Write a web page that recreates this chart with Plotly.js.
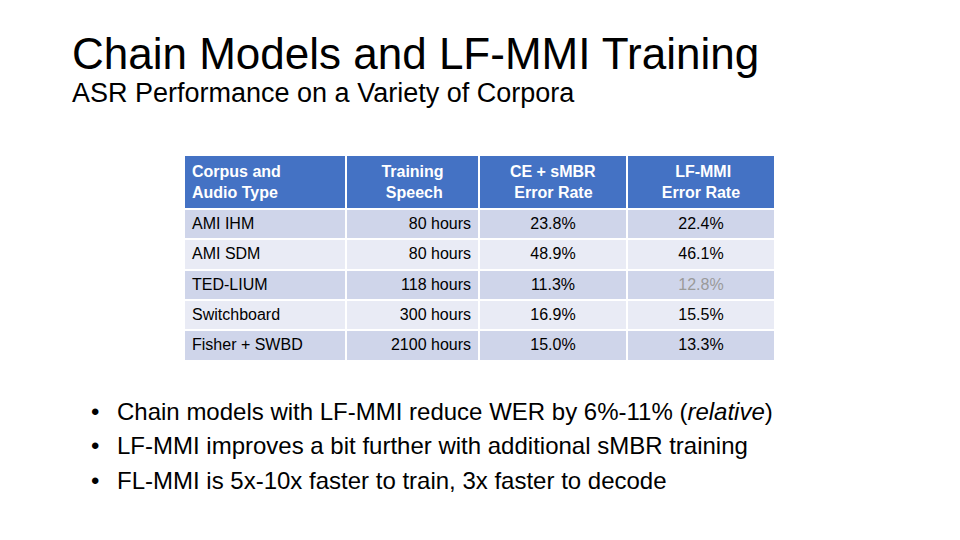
<!DOCTYPE html>
<html>
<head>
<meta charset="utf-8">
<script src="https://cdn.plot.ly/plotly-3.0.1.min.js"></script>
<style>
  html, body { margin: 0; padding: 0; background: #ffffff; }
  #chart { width: 960px; height: 540px; }
</style>
</head>
<body>
<div id="chart"></div>
<script>
// ---- Data ----
const NB = "\u00a0";
const headers = [
  "Corpus and<br>Audio Type",
  "Training<br>" + NB + "Speech",
  "CE + sMBR<br>" + NB + "Error Rate",
  NB + NB + NB + "LF-MMI<br>Error Rate"
];
const corpora = ["AMI IHM", "AMI SDM", "TED-LIUM", "Switchboard", "Fisher + SWBD"];
const trainingHours = [80, 80, 118, 300, 2100];
const ceSmbrErr = [23.8, 48.9, 11.3, 16.9, 15.0];
const lfMmiErr = [22.4, 46.1, 12.8, 15.5, 13.3];
const bullets = [
  "Chain models with LF-MMI reduce WER by 6%-11% (<i>relative</i>)",
  "LF-MMI improves a bit further with additional sMBR training",
  "FL-MMI is 5x-10x faster to train, 3x faster to decode"
];
const title = "Chain Models and LF-MMI Training";
const subtitle = "ASR Performance on a Variety of Corpora";

// ---- Build table ----
const W = 960, H = 540;
const FONT = "Liberation Sans, Arial, Helvetica, sans-serif";
const hoursText = trainingHours.map(h => h + " hours");
const ceText = ceSmbrErr.map(v => v.toFixed(1) + "%");
const lfText = lfMmiErr.map(v => v.toFixed(1) + "%");

const rowFill = corpora.map((_, i) => i % 2 === 0 ? "#CFD5EA" : "#E9EBF5");
const lfColor = corpora.map((_, i) => lfMmiErr[i] > ceSmbrErr[i] ? "#9a9a9a" : "#000000");
const blackCol = corpora.map(() => "#000000");

const tableTrace = {
  type: "table",
  domain: { x: [184 / W, 775 / W], y: [0, 1 - 155 / H] },
  columnwidth: [162, 133, 148, 148],
  header: {
    values: headers.map(h => [h]),
    align: ["left", "center", "center", "center"],
    fill: { color: "#4472C4" },
    line: { color: "#ffffff", width: 2 },
    font: { family: FONT, size: 16, color: "#ffffff", weight: "bold" },
    height: 53
  },
  cells: {
    values: [corpora, hoursText, ceText, lfText],
    align: ["left", "right", "center", "center"],
    fill: { color: [rowFill, rowFill, rowFill, rowFill] },
    line: { color: "#ffffff", width: 2 },
    font: { family: FONT, size: 16, color: [blackCol, blackCol, blackCol, lfColor] },
    height: 30.4
  }
};

const annotations = [
  { text: title, x: 70 / W, y: 1 - 54 / H, font: { size: 44, color: "#000000", family: FONT } },
  { text: subtitle, x: 70 / W, y: 1 - 93 / H, font: { size: 27, color: "#000000", family: FONT } }
];
bullets.forEach((b, i) => {
  const yc = 411 + i * 34.5;
  annotations.push({ text: "•", x: 89 / W, y: 1 - yc / H, font: { size: 24, color: "#000000", family: FONT } });
  annotations.push({ text: b, x: 115 / W, y: 1 - yc / H, font: { size: 24, color: "#000000", family: FONT } });
});
annotations.forEach(a => {
  a.xref = "paper"; a.yref = "paper"; a.xanchor = "left"; a.yanchor = "middle";
  a.showarrow = false; a.align = "left";
});

const layout = {
  width: W, height: H,
  margin: { l: 0, r: 0, t: 0, b: 0 },
  paper_bgcolor: "#ffffff",
  plot_bgcolor: "#ffffff",
  showlegend: false,
  annotations: annotations
};

Plotly.newPlot("chart", [tableTrace], layout, { displayModeBar: false, staticPlot: true });
</script>
</body>
</html>
